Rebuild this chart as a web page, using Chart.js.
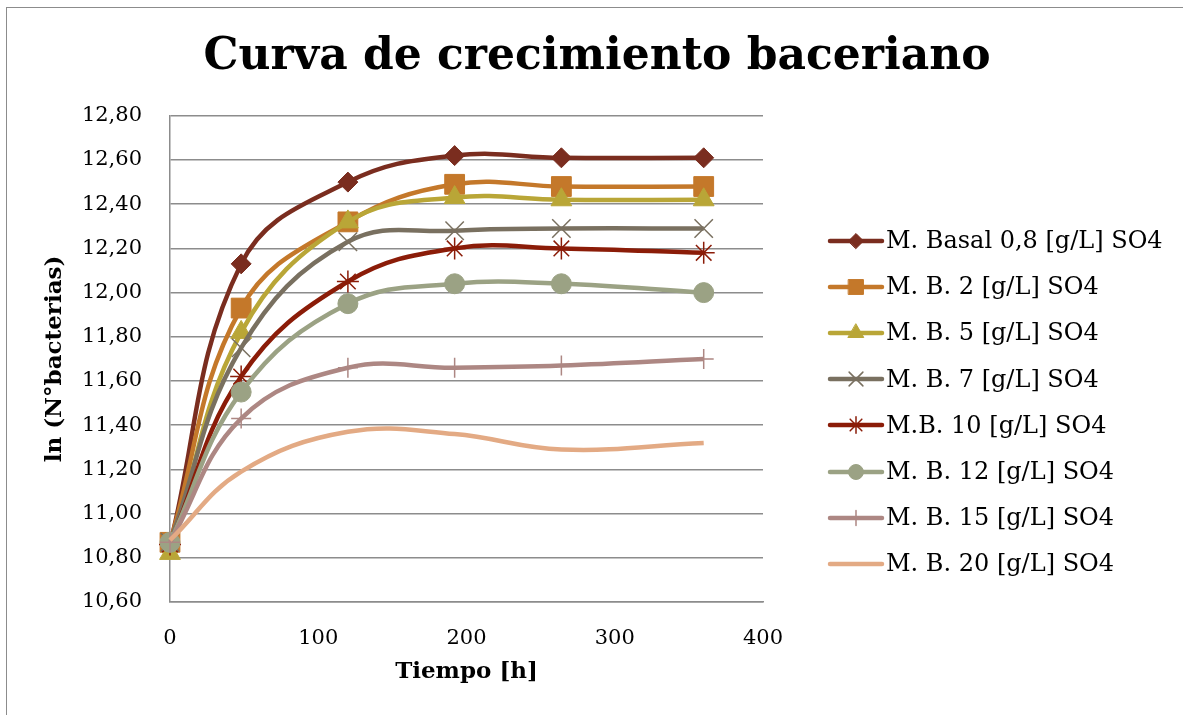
<!DOCTYPE html>
<html>
<head>
<meta charset="utf-8">
<script src="https://cdn.jsdelivr.net/npm/chart.js@4/dist/chart.umd.min.js"></script>
<style>
  html, body { margin: 0; padding: 0; background: #fff; overflow: hidden; }
  #wrap { position: relative; width: 1183px; height: 715px; }
  #frame { position: absolute; left: 6px; top: 7px; width: 1200px; height: 730px;
           border: 1.5px solid #8c8c8c; pointer-events: none; }
  canvas { position: absolute; left: 0; top: 0; }
</style>
</head>
<body>
<div id="wrap">
  <canvas id="growthChart" width="1183" height="715"></canvas>
  <div id="frame"></div>
</div>
<script>
// Sampling times (h)
const hours = [0, 48, 120, 192, 264, 360];

// ln(N° bacterias) per medium
const basal08 = [10.86, 12.13, 12.50, 12.62, 12.61, 12.61];
const mb2     = [10.87, 11.93, 12.32, 12.49, 12.48, 12.48];
const mb5     = [10.82, 11.82, 12.32, 12.43, 12.42, 12.42];
const mb7     = [10.87, 11.75, 12.23, 12.28, 12.29, 12.29];
const mb10    = [10.86, 11.62, 12.05, 12.20, 12.20, 12.18];
const mb12    = [10.87, 11.55, 11.95, 12.04, 12.04, 12.00];
const mb15    = [10.87, 11.43, 11.66, 11.66, 11.67, 11.70];
const mb20    = [10.88, 11.19, 11.37, 11.36, 11.29, 11.32];

const seriesLabels = [
    'M. Basal 0,8 [g/L] SO4',
    'M. B. 2 [g/L] SO4',
    'M. B. 5 [g/L] SO4',
    'M. B. 7 [g/L] SO4',
    'M.B. 10 [g/L] SO4',
    'M. B. 12 [g/L] SO4',
    'M. B. 15 [g/L] SO4',
    'M. B. 20 [g/L] SO4'
];
const seriesValues = [basal08, mb2, mb5, mb7, mb10, mb12, mb15, mb20];

// Look of each series: colour, marker, marker size
const seriesStyles = [
    { color: '#7a2d1f', marker: 'rectRot',  radius: 10, stroke: 1 },
    { color: '#c4782a', marker: 'rect',     radius: 14, stroke: 1 },
    { color: '#b9a637', marker: 'triangle', radius: 12, stroke: 1 },
    { color: '#797060', marker: 'crossRot', radius: 13, stroke: 1.5 },
    { color: '#8b1c08', marker: 'star',     radius: 11, stroke: 1.5 },
    { color: '#9ba284', marker: 'circle',   radius: 10, stroke: 1 },
    { color: '#ad8783', marker: 'cross',    radius: 10, stroke: 1.5 },
    { color: '#e3aa84', marker: false,      radius: 0,  stroke: 0 }
];

const serif = 'DejaVu Serif';
const gridGray = '#8c8c8c';

// Legend icon: short line with the marker in the middle
function makeLegendIcon(style) {
    const c = document.createElement('canvas');
    c.width = 58;
    c.height = 24;
    const g = c.getContext('2d');
    g.strokeStyle = style.color;
    g.fillStyle = style.color;
    g.lineWidth = 4.5;
    g.lineCap = 'round';
    g.beginPath();
    g.moveTo(3, 12);
    g.lineTo(55, 12);
    g.stroke();
    if (style.marker) {
        g.lineWidth = style.stroke;
        Chart.helpers.drawPoint(g, {
            pointStyle: style.marker,
            radius: style.radius * 0.75,
            borderWidth: style.stroke,
            rotation: 0
        }, 29, 12);
    }
    return c;
}
const legendIcons = seriesStyles.map(makeLegendIcon);

// Legend drawn in the space kept free on the right of the plot
const sideLegend = {
    id: 'sideLegend',
    afterDraw(chart) {
        const ctx = chart.ctx;
        const x0 = chart.chartArea.right + 64;
        ctx.save();
        ctx.font = '24px "' + serif + '"';
        ctx.fillStyle = '#000';
        ctx.textBaseline = 'middle';
        chart.data.datasets.forEach((ds, i) => {
            const y = 241 + i * 46.1;
            ctx.drawImage(legendIcons[i], x0, Math.round(y - 12));
            ctx.fillText(ds.label, x0 + 59, y + 1);
        });
        ctx.restore();
    }
};

const datasets = seriesValues.map((vals, i) => {
    const st = seriesStyles[i];
    return {
        label: seriesLabels[i],
        data: vals.map((v, k) => ({ x: hours[k], y: v })),
        borderColor: st.color,
        backgroundColor: st.color,
        borderWidth: 4.5,
        tension: 0.4,
        pointStyle: st.marker,
        pointRadius: st.radius,
        pointHoverRadius: st.radius,
        pointBorderWidth: st.stroke,
        pointBackgroundColor: st.color,
        pointBorderColor: st.color,
        order: seriesValues.length - i,   // later series on top, as in the original
        clip: false
    };
});

new Chart(document.getElementById('growthChart').getContext('2d'), {
    type: 'line',
    data: { datasets: datasets },
    options: {
        responsive: false,
        animation: false,
        layout: { padding: { left: 37, right: 26, top: 0, bottom: 0 } },
        plugins: {
            title: {
                display: true,
                text: 'Curva de crecimiento baceriano',
                color: '#000',
                font: { family: serif, size: 44, weight: 'bold' },
                padding: { top: 31, bottom: 32 }
            },
            legend: { display: false },
            tooltip: { enabled: false }
        },
        scales: {
            x: {
                type: 'linear',
                min: 0,
                max: 400,
                ticks: {
                    stepSize: 100,
                    padding: 24,
                    color: '#000',
                    font: { family: serif, size: 21 }
                },
                grid: { display: false, drawTicks: false },
                border: { display: true, color: gridGray, width: 1.5 },
                title: {
                    display: true,
                    text: 'Tiempo [h]',
                    color: '#000',
                    font: { family: serif, size: 23, weight: 'bold' },
                    padding: { top: 10, bottom: 29 }
                },
                afterFit: (scale) => { scale.height = 113; }
            },
            y: {
                min: 10.6,
                max: 12.8,
                ticks: {
                    stepSize: 0.2,
                    padding: 28,
                    color: '#000',
                    font: { family: serif, size: 21 },
                    callback: (v) => v.toFixed(2).replace('.', ',')
                },
                grid: { color: gridGray, lineWidth: 1.5, drawTicks: false },
                border: { display: true, color: gridGray, width: 1.5 },
                title: {
                    display: true,
                    text: 'ln (N°bacterias)',
                    color: '#000',
                    font: { family: serif, size: 23, weight: 'bold' },
                    padding: { top: 4, bottom: 0 }
                },
                afterFit: (scale) => { scale.width = 133; }
            },
            // empty axis that only keeps room for the legend
            legendRoom: {
                axis: 'y',
                type: 'linear',
                position: 'right',
                grid: { display: false, drawTicks: false },
                border: { display: false },
                ticks: { display: false },
                afterFit: (scale) => { scale.width = 394; }
            }
        }
    },
    plugins: [sideLegend]
});
</script>
</body>
</html>
